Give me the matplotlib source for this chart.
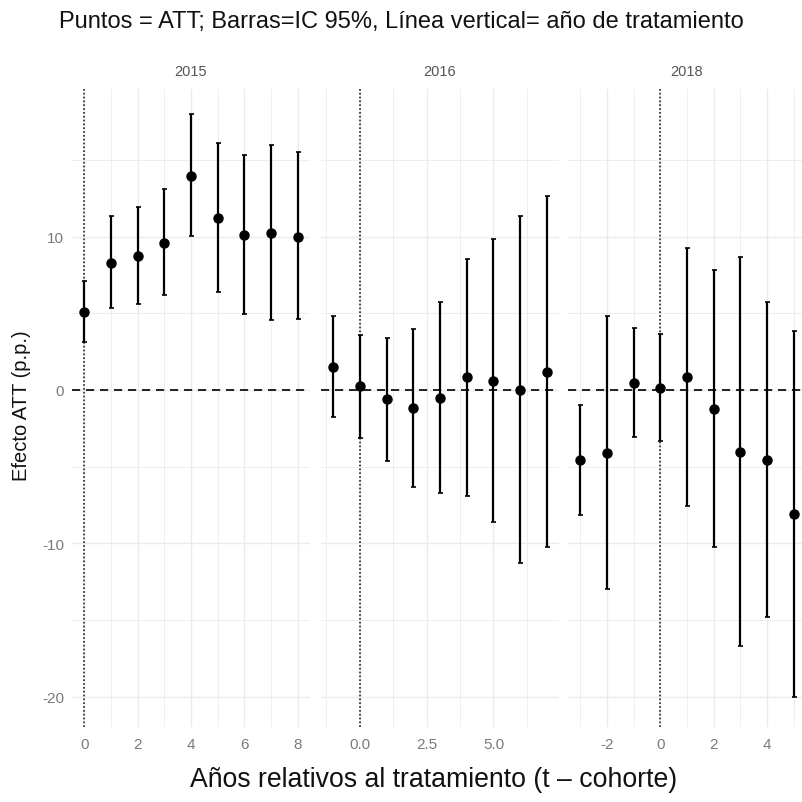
import matplotlib
matplotlib.use("Agg")
import matplotlib.pyplot as plt

# data (ATT and 95% CI, in p.p.)
cohorts = ["2015", "2016", "2018"]

rel_2015 = [0, 1, 2, 3, 4, 5, 6, 7, 8]
att_2015 = [5.07, 8.30, 8.76, 9.60, 13.98, 11.22, 10.09, 10.22, 10.00]
lo_2015 = [3.10, 5.35, 5.60, 6.20, 10.03, 6.37, 4.93, 4.56, 4.65]
hi_2015 = [7.10, 11.37, 11.96, 13.10, 17.98, 16.10, 15.30, 16.00, 15.50]

rel_2016 = [-1, 0, 1, 2, 3, 4, 5, 6, 7]
att_2016 = [1.52, 0.24, -0.59, -1.20, -0.52, 0.83, 0.59, 0.00, 1.20]
lo_2016 = [-1.74, -3.13, -4.61, -6.31, -6.74, -6.89, -8.63, -11.30, -10.22]
hi_2016 = [4.85, 3.61, 3.41, 3.98, 5.74, 8.55, 9.83, 11.35, 12.68]

rel_2018 = [-3, -2, -1, 0, 1, 2, 3, 4, 5]
att_2018 = [-4.59, -4.11, 0.46, 0.13, 0.87, -1.26, -4.02, -4.57, -8.11]
lo_2018 = [-8.13, -12.98, -3.04, -3.30, -7.55, -10.24, -16.72, -14.83, -20.00]
hi_2018 = [-0.98, 4.81, 4.02, 3.65, 9.26, 7.85, 8.70, 5.76, 3.87]

panels = [
    (rel_2015, att_2015, lo_2015, hi_2015, [0, 2, 4, 6, 8], ["0", "2", "4", "6", "8"], [1, 3, 5, 7]),
    (rel_2016, att_2016, lo_2016, hi_2016, [0, 2.5, 5.0], ["0.0", "2.5", "5.0"], [-1.25, 1.25, 3.75, 6.25]),
    (rel_2018, att_2018, lo_2018, hi_2018, [-2, 0, 2, 4], ["-2", "0", "2", "4"], [-3, -1, 1, 3, 5]),
]

plt.rcParams["font.family"] = ["Liberation Sans", "DejaVu Sans"]
plt.rcParams["axes.unicode_minus"] = False

fig = plt.figure(figsize=(8.03, 8.03), dpi=100)
W, H = 803, 803
lefts = [72, 321, 568]
pw = 238
bottom, top = 728, 90

grid_col = "#ebebeb"
tick_col = "#7a7a7a"

for i, (xs, ys, lo, hi, maj, majlab, mnr) in enumerate(panels):
    ax = fig.add_axes([lefts[i] / W, 1 - bottom / H, pw / W, (bottom - top) / H])
    for s in ax.spines.values():
        s.set_visible(False)
    ax.set_xlim(min(xs) - 0.455, max(xs) + 0.455)
    ax.set_ylim(-21.98, 19.63)
    ax.set_xticks(maj)
    ax.set_xticklabels(majlab)
    ax.set_xticks(mnr, minor=True)
    ax.set_yticks([-20, -10, 0, 10])
    ax.set_yticks([-15, -5, 5, 15], minor=True)
    ax.grid(True, which="major", color=grid_col, lw=1.0)
    ax.grid(True, which="minor", color=grid_col, lw=0.6)
    ax.set_axisbelow(True)
    ax.tick_params(which="both", length=0, colors=tick_col, labelsize=11)
    ax.tick_params(axis="x", pad=7)
    ax.tick_params(axis="y", pad=5.5)
    if i > 0:
        ax.tick_params(axis="y", labelleft=False)

    ax.axhline(0, color="#222222", lw=1.4, ls=(0, (4.2, 3)), zorder=1)
    ax.axvline(0, color="#222222", lw=1.2, ls=(0, (1, 1.3)), zorder=1)
    yerr = [[y - l for y, l in zip(ys, lo)], [h - y for y, h in zip(ys, hi)]]
    ax.errorbar(xs, ys, yerr=yerr, fmt="o", color="black", ms=6.5,
                elinewidth=1.6, capsize=1.8, capthick=1.2, zorder=3)
    ax.set_title(cohorts[i], fontsize=10.5, color="#555555", pad=10)

fig.text(22 / W, 1 - 406 / H, "Efecto ATT (p.p.)", rotation=90,
         ha="center", va="center", fontsize=14.5, color="#111111")
fig.text(0.5, 1 - 22 / H, "Puntos = ATT; Barras=IC 95%, Línea vertical= año de tratamiento",
         ha="center", va="center", fontsize=17, color="#111111")
fig.text(434 / W, 1 - 780 / H, "Años relativos al tratamiento (t – cohorte)",
         ha="center", va="center", fontsize=19.2, color="#111111")

fig.savefig("out.png", dpi=100, facecolor="white")
